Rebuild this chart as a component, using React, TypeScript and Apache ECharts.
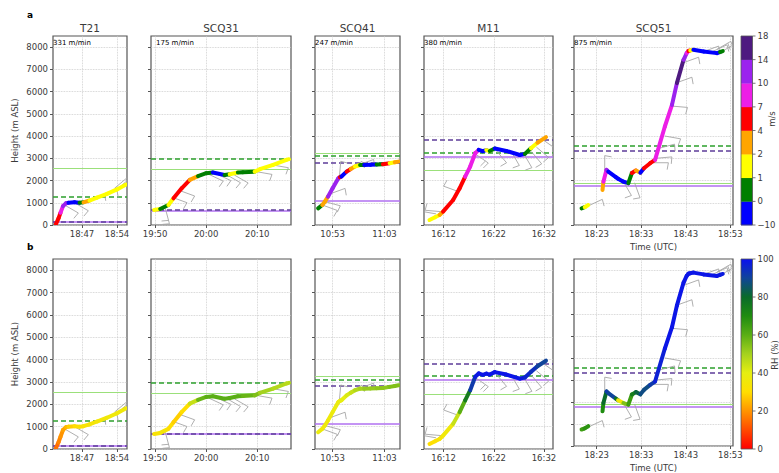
import React, { useEffect, useRef } from "react";
import * as echarts from "echarts";

// ---------- axes / panels ----------
const panelNames = ["T21", "SCQ31", "SCQ41", "M11", "SCQ51"];
const ascentRates = ["331 m/min", "175 m/min", "247 m/min", "380 m/min", "875 m/min"];
// x range in minutes of the day (UTC)
const xMinutesMin = [1121.2, 1189.2, 649.6, 968.1, 1097.9];
const xMinutesMax = [1136.0, 1216.6, 666.0, 993.8, 1133.6];
const xTickMinutes = [
  [1127, 1134],
  [1190, 1200, 1210],
  [653, 663],
  [972, 982, 992],
  [1103, 1113, 1123, 1133],
];
const heightTicks = [0, 1000, 2000, 3000, 4000, 5000, 6000, 7000, 8000];
const heightMax = 8500;

// ---------- trajectories (time in minutes of day, height m, wind m/s, RH %) ----------
const t21Time = [1121.8, 1122.3, 1122.7, 1123.2, 1123.8, 1124.3, 1125.5, 1126.5, 1127.3, 1128.5, 1130, 1132, 1134, 1135.8];
const t21Height = [50, 300, 550, 850, 980, 1000, 1020, 1000, 1020, 1100, 1230, 1400, 1600, 1820];
const t21Wind = [5, 6, 8, 12, 12, -2, -2, 0.5, 3, 1.5, 1.5, 1.5, 1.5, 1.5];
const t21RH = [15, 18, 20, 22, 25, 28, 30, 32, 33, 34, 35, 36, 36, 36];

const scq31Time = [1189.8, 1191, 1192.6, 1193.6, 1195.2, 1196.8, 1198.4, 1200, 1201.3, 1203.6, 1204.6, 1206.2, 1207.2, 1209.5, 1210.5, 1213.1, 1215.7, 1216.2];
const scq31Height = [675, 720, 900, 1200, 1650, 2030, 2200, 2330, 2360, 2250, 2280, 2360, 2370, 2400, 2510, 2700, 2930, 2960];
const scq31Wind = [1.5, 0.5, 1.5, 5, 5, 3, 0.5, 0.5, -3, 0.5, 1.5, 0.5, 0.5, 1.5, 1.5, 1.5, 1.5, 1.5];
const scq31RH = [33, 34, 30, 28, 30, 45, 58, 60, 60, 60, 60, 60, 58, 55, 50, 48, 47, 47];

const scq41Time = [650.2, 651.0, 651.5, 652.1, 653.0, 654.1, 654.4, 654.7, 655.7, 656.5, 657.3, 658.3, 659.1, 660.3, 661.5, 662.7, 664, 665, 665.7];
const scq41Height = [750, 900, 1050, 1275, 1650, 2100, 2150, 2180, 2400, 2520, 2630, 2700, 2700, 2710, 2720, 2730, 2780, 2820, 2850];
const scq41Wind = [0.5, 3, 3, 11, 11, 11, 5, -3, 5, 3, 1.5, 0.5, -3, -3, 0.5, 5, 1.5, 3, 3];
const scq41RH = [38, 36, 37, 37, 38, 38, 39, 40, 42, 45, 48, 50, 52, 52, 53, 53, 55, 55, 55];

const m11Time = [969.2, 970.3, 971.2, 971.9, 973.9, 975.2, 976.3, 977.3, 978.3, 979.0, 979.8, 980.5, 981.2, 982.2, 984.5, 987.2, 988.2, 989.4, 990.7, 992.4];
const m11Height = [225, 350, 450, 600, 1125, 1650, 2175, 2630, 3230, 3380, 3320, 3370, 3330, 3440, 3330, 3150, 3200, 3450, 3700, 3950];
const m11Wind = [1.5, 1.5, 3, 5, 5, 5, 8, 8, 8, -3, -3, 1.5, 0.5, -3, -3, -3, 0.5, 1.5, 3, 5];
const m11RH = [30, 32, 34, 36, 45, 60, 75, 92, 98, 99, 99, 99, 99, 99, 99, 98, 96, 94, 90, 86];

const scq51Time = [1099.6, 1100.3, 1101.1, null, 1104.3, 1104.5, 1105.2, 1105.6, 1107.3, 1107.8, 1109, 1110.1, 1110.9, 1111.8, 1112.8, 1113.6, 1115, 1116.1, 1118.3, 1119.9, 1121, 1122.5, 1123.2, 1123.6, 1124, 1124.7, 1127, 1130, 1130.7, 1131.3];
const scq51Height = [750, 800, 900, null, 1575, 1950, 2480, 2400, 2150, 2080, 1950, 1880, 2340, 2450, 2350, 2550, 2780, 2930, 4430, 5400, 6380, 7430, 7730, 7830, 7850, 7880, 7800, 7730, 7780, 7820];
const scq51Wind = [0.5, 1.5, 0.5, null, 3, 8, 10.5, -3, -3, -3, -3, 0.5, 5, 3, -3, 5, 5, 8, 9, 11, 15, 11, 8, 5, 1.5, -3, -3, -3, 0.5, 1.5];
const scq51RH = [65, 68, 68, null, 70, 80, 92, 90, 78, 35, 55, 65, 75, 82, 88, 88, 92, 97, 99, 99, 99, 99, 99, 99, 99, 99, 99, 99, 98, 97];

// ---------- wind barbs: [time, height, staff angle (deg), feathers] ----------
const t21Barbs = [[1123.5, 900, -30, 1], [1125.5, 1000, -30, 1], [1128.5, 1150, 20, 1], [1131, 1300, 20, 1], [1133.5, 1650, 40, 1], [1135, 1800, 40, 1]];
const scq31Barbs = [[1193.3, 1250, -20, 1], [1194.8, 1550, -20, 1], [1192, 750, -75, 2], [1200.5, 2280, -25, 1], [1202, 2300, -25, 1], [1204, 2260, -30, 1], [1205.5, 2250, -30, 1], [1209.8, 2400, -10, 1], [1213, 2700, -10, 1]];
const scq41Barbs = [[654.3, 2150, 85, 1], [652.5, 1400, 20, 1], [651.5, 1050, -15, 1], [651, 900, -20, 1], [656, 2500, 30, 1], [658, 2700, 20, 1]];
const m11Barbs = [[971.5, 600, 175, 1], [970.5, 500, 170, 1], [975, 1500, 160, 1], [978.3, 3200, -35, 2], [982.5, 3350, -50, 1], [985.5, 3300, -60, 1], [988, 3200, -60, 1], [989.5, 3300, -50, 1], [990.5, 3500, -40, 1], [992, 3800, -35, 1]];
const scq51Barbs = [[1101, 850, 25, 1], [1104.8, 2400, 90, 1], [1109, 1950, -60, 1], [1111.5, 1900, -70, 1], [1115.5, 2800, 0, 1], [1116.3, 3000, 5, 1], [1117, 3450, 15, 1], [1118.3, 4000, -10, 1], [1119.8, 5350, -5, 1], [1121, 6400, 20, 1], [1122.5, 7300, 20, 1], [1127, 7800, 20, 1], [1129, 7800, 25, 1], [1130, 7900, 30, 2], [1131.5, 7850, 30, 2]];

// ---------- reference heights per panel ----------
const lineGreenDashed = [1250, 2960, 3120, 3270, 3570];
const lineLightGreen = [2560, 2510, 3240, 2460, 1890];
const linePurpleDashed = [150, 690, 2820, 3830, 3350];
const lineVioletSolid = [150, 660, 1110, 3080, 1770];

// ---------- colour scales ----------
const windBounds = [-10, 0, 1, 2, 4, 7, 10, 14, 18];
const windColors = ["#0000ff", "#007f00", "#ffff00", "#ffa500", "#ff0000", "#ec1ee6", "#9b22ee", "#4e1a80"];
const rhTicks = [0, 20, 40, 60, 80, 100];
const rhColors = ["#ff0000", "#ff4a00", "#ff9400", "#ffde00", "#e6ee10", "#a5d21e", "#5aae14", "#1f8c10", "#0a6b2a", "#10449a", "#0a10f0"];

const panelTimes = [t21Time, scq31Time, scq41Time, m11Time, scq51Time];
const panelHeights = [t21Height, scq31Height, scq41Height, m11Height, scq51Height];
const panelWind = [t21Wind, scq31Wind, scq41Wind, m11Wind, scq51Wind];
const panelRH = [t21RH, scq31RH, scq41RH, m11RH, scq51RH];
const panelBarbs = [t21Barbs, scq31Barbs, scq41Barbs, m11Barbs, scq51Barbs];

// ---------- layout ----------
const GRID_LEFT = [53, 151, 315, 424, 574];
const GRID_WIDTH = [74, 140, 85, 129, 159];
const ROW_TOP = [36, 259];
const ROW_HEIGHT = [189, 190];
const FONT = "DejaVu Sans";
const TXT = "#3a3a3a";

function fmtTime(v: number) {
  const h = Math.floor(v / 60);
  const m = Math.round(v - h * 60);
  return `${h}:${String(m).padStart(2, "0")}`;
}

function buildSegments(times: (number | null)[], heights: (number | null)[], vals: (number | null)[]) {
  const rows: number[][] = [];
  for (let i = 0; i < times.length; i++) {
    if (heights[i] == null || times[i] == null) continue;
    const hasNext = i + 1 < times.length && heights[i + 1] != null;
    const t2 = hasNext ? (times[i + 1] as number) : (times[i] as number);
    const h2 = hasNext ? (heights[i + 1] as number) : (heights[i] as number);
    rows.push([times[i] as number, heights[i] as number, vals[i] as number, t2, h2]);
  }
  return rows;
}

function renderSegment(params: any, api: any) {
  const p0 = api.coord([api.value(0), api.value(1)]);
  const p1 = api.coord([api.value(3), api.value(4)]);
  return {
    type: "line",
    shape: { x1: p0[0], y1: p0[1], x2: p1[0], y2: p1[1] },
    style: { stroke: api.visual("color"), lineWidth: 4, lineCap: "round" },
  };
}

function renderBarb(params: any, api: any) {
  const p = api.coord([api.value(0), api.value(1)]);
  const ang = (api.value(2) * Math.PI) / 180;
  const n = api.value(3);
  const L = 16;
  const ex = p[0] + L * Math.cos(ang);
  const ey = p[1] - L * Math.sin(ang);
  const stroke = { stroke: "#a6a6a6", lineWidth: 0.9 };
  const children: any[] = [{ type: "line", shape: { x1: p[0], y1: p[1], x2: ex, y2: ey }, style: stroke }];
  const fa = ang - (100 * Math.PI) / 180;
  for (let k = 0; k < n; k++) {
    const d = L - k * 3.5;
    const bx = p[0] + d * Math.cos(ang);
    const by = p[1] - d * Math.sin(ang);
    children.push({
      type: "line",
      shape: { x1: bx, y1: by, x2: bx + 7 * Math.cos(fa), y2: by - 7 * Math.sin(fa) },
      style: stroke,
    });
  }
  return { type: "group", children };
}

function buildOption() {
  const grids: any[] = [];
  const xAxes: any[] = [];
  const yAxes: any[] = [];
  const series: any[] = [];
  const windSeries: number[] = [];
  const rhSeries: number[] = [];
  const graphics: any[] = [];

  for (let r = 0; r < 2; r++) {
    for (let c = 0; c < 5; c++) {
      const idx = r * 5 + c;
      grids.push({
        left: GRID_LEFT[c],
        top: ROW_TOP[r],
        width: GRID_WIDTH[c],
        height: ROW_HEIGHT[r],
        show: true,
        borderColor: "#555",
        borderWidth: 1.2,
        backgroundColor: "#fff",
      });
      xAxes.push({
        type: "value",
        gridIndex: idx,
        min: xMinutesMin[c],
        max: xMinutesMax[c],
        axisLine: { show: false },
        axisTick: { show: true, length: 3, customValues: xTickMinutes[c], lineStyle: { color: "#555" } },
        axisLabel: {
          customValues: xTickMinutes[c],
          formatter: (v: number) => fmtTime(v),
          fontSize: 8.5,
          fontFamily: FONT,
          color: TXT,
          margin: 4,
        },
        splitLine: { show: true, lineStyle: { color: "#c8c8c8", type: "dotted", width: 0.8 } },
        name: c === 4 ? "Time (UTC)" : "",
        nameLocation: "middle",
        nameGap: 17,
        nameTextStyle: { fontSize: 8.5, fontFamily: FONT, color: TXT },
      });
      yAxes.push({
        type: "value",
        gridIndex: idx,
        min: 0,
        max: heightMax,
        axisLine: { show: false },
        axisTick: { show: true, length: 3, customValues: heightTicks, lineStyle: { color: "#555" } },
        axisLabel: {
          show: c === 0,
          customValues: heightTicks,
          formatter: (v: number) => String(v),
          fontSize: 8.5,
          fontFamily: FONT,
          color: TXT,
          margin: 5,
        },
        splitLine: { show: true, lineStyle: { color: "#c8c8c8", type: "dotted", width: 0.8 } },
        name: c === 0 ? "Height (m ASL)" : "",
        nameLocation: "middle",
        nameRotate: 90,
        nameGap: 34,
        nameTextStyle: { fontSize: 8.5, fontFamily: FONT, color: TXT },
      });

      // barbs
      series.push({
        type: "custom",
        xAxisIndex: idx,
        yAxisIndex: idx,
        clip: true,
        silent: true,
        z: 2,
        encode: { x: 0, y: 1 },
        renderItem: renderBarb,
        data: panelBarbs[c],
      });

      // trajectory coloured by wind (top) or RH (bottom)
      const vals = r === 0 ? panelWind[c] : panelRH[c];
      const sIdx = series.length;
      if (r === 0) windSeries.push(sIdx);
      else rhSeries.push(sIdx);
      series.push({
        type: "custom",
        xAxisIndex: idx,
        yAxisIndex: idx,
        clip: true,
        silent: true,
        z: 3,
        encode: { x: 0, y: 1 },
        dimensions: ["t", "h", "v", "t2", "h2"],
        renderItem: renderSegment,
        data: buildSegments(panelTimes[c], panelHeights[c], vals),
        markLine: {
          silent: true,
          symbol: ["none", "none"],
          label: { show: false },
          animation: false,
          z: 1,
          data: [
            { yAxis: lineLightGreen[c], lineStyle: { color: "#9be07a", type: "solid", width: 1.2 } },
            { yAxis: lineVioletSolid[c], lineStyle: { color: "#b070f0", type: "solid", width: 1.5 } },
            { yAxis: lineGreenDashed[c], lineStyle: { color: "#2ca02c", type: [5, 3], width: 1.5 } },
            { yAxis: linePurpleDashed[c], lineStyle: { color: "#5e3c99", type: [5, 3], width: 1.5 } },
          ],
        },
      });

      if (r === 0) {
        graphics.push({
          type: "text",
          x: GRID_LEFT[c] + GRID_WIDTH[c] / 2,
          y: 28,
          style: { text: panelNames[c], fontSize: 10.5, fontFamily: FONT, fill: TXT, align: "center", verticalAlign: "middle" },
        });
        graphics.push({
          type: "text",
          x: GRID_LEFT[c] + (c === 1 ? 5 : 0),
          y: 43,
          z: 10,
          style: { text: ascentRates[c], fontSize: 7, fontFamily: FONT, fill: "#000", align: "left", verticalAlign: "middle" },
        });
      }
    }
  }

  // panel letters
  graphics.push({ type: "text", x: 27, y: 15, style: { text: "a", fontSize: 9, fontWeight: "bold", fontFamily: FONT, fill: "#000", verticalAlign: "middle" } });
  graphics.push({ type: "text", x: 27, y: 247, style: { text: "b", fontSize: 9, fontWeight: "bold", fontFamily: FONT, fill: "#000", verticalAlign: "middle" } });

  // wind colour bar
  const cbX = 741;
  const cbW = 11.5;
  const segH = ROW_HEIGHT[0] / windColors.length;
  for (let i = 0; i < windColors.length; i++) {
    graphics.push({
      type: "rect",
      shape: { x: cbX, y: ROW_TOP[0] + ROW_HEIGHT[0] - (i + 1) * segH, width: cbW, height: segH + 0.3 },
      style: { fill: windColors[i] },
    });
  }
  graphics.push({ type: "rect", shape: { x: cbX, y: ROW_TOP[0], width: cbW, height: ROW_HEIGHT[0] }, style: { fill: "none", stroke: "#555", lineWidth: 0.8 } });
  for (let i = 0; i < windBounds.length; i++) {
    const y = ROW_TOP[0] + ROW_HEIGHT[0] - i * segH;
    graphics.push({ type: "line", shape: { x1: cbX + cbW, y1: y, x2: cbX + cbW + 3, y2: y }, style: { stroke: "#555", lineWidth: 0.8 } });
    const v = windBounds[i];
    graphics.push({
      type: "text",
      x: cbX + cbW + 5,
      y,
      style: { text: v < 0 ? "\u2212" + Math.abs(v) : String(v), fontSize: 8.5, fontFamily: FONT, fill: TXT, verticalAlign: "middle" },
    });
  }
  graphics.push({
    type: "text",
    x: 772,
    y: 119,
    rotation: Math.PI / 2,
    style: { text: "m/s", fontSize: 8.5, fontFamily: FONT, fill: TXT, align: "center", verticalAlign: "middle" },
  });

  // RH colour bar
  const stops = rhColors.map((col, i) => ({ offset: i / (rhColors.length - 1), color: col }));
  graphics.push({
    type: "rect",
    shape: { x: cbX, y: ROW_TOP[1], width: cbW, height: ROW_HEIGHT[1] },
    style: { fill: new echarts.graphic.LinearGradient(0, 1, 0, 0, stops), stroke: "#555", lineWidth: 0.8 },
  });
  for (const v of rhTicks) {
    const y = ROW_TOP[1] + ROW_HEIGHT[1] - (v / 100) * ROW_HEIGHT[1];
    graphics.push({ type: "line", shape: { x1: cbX + cbW, y1: y, x2: cbX + cbW + 3, y2: y }, style: { stroke: "#555", lineWidth: 0.8 } });
    graphics.push({ type: "text", x: cbX + cbW + 5, y, style: { text: String(v), fontSize: 8.5, fontFamily: FONT, fill: TXT, verticalAlign: "middle" } });
  }
  graphics.push({
    type: "text",
    x: 775,
    y: 355,
    rotation: Math.PI / 2,
    style: { text: "RH (%)", fontSize: 8.5, fontFamily: FONT, fill: TXT, align: "center", verticalAlign: "middle" },
  });

  const pieces = windColors.map((col, i) =>
    i === windColors.length - 1
      ? { gte: windBounds[i], lte: windBounds[i + 1], color: col }
      : { gte: windBounds[i], lt: windBounds[i + 1], color: col }
  );

  return {
    animation: false,
    backgroundColor: "#fff",
    grid: grids,
    xAxis: xAxes,
    yAxis: yAxes,
    visualMap: [
      { type: "piecewise", show: false, dimension: 2, seriesIndex: windSeries, pieces },
      { type: "continuous", show: false, dimension: 2, seriesIndex: rhSeries, min: 0, max: 100, inRange: { color: rhColors } },
    ],
    series,
    graphic: graphics,
  };
}

export default function App() {
  const ref = useRef<HTMLDivElement>(null);
  useEffect(() => {
    if (!ref.current) return;
    const chart = echarts.init(ref.current, undefined, { renderer: "svg" });
    chart.setOption(buildOption() as any);
    return () => chart.dispose();
  }, []);
  return (
    <div
      ref={ref}
      style={{ position: "absolute", left: 0, top: 0, width: 779, height: 473, background: "#fff" }}
    />
  );
}
